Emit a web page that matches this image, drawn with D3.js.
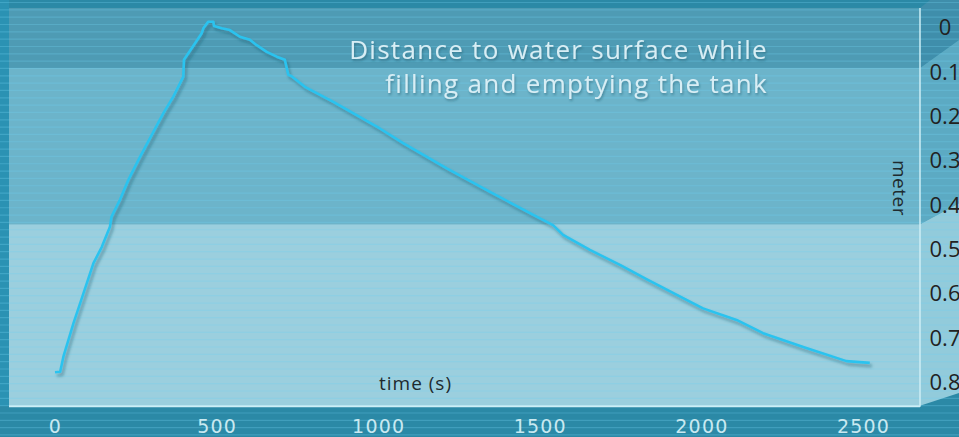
<!DOCTYPE html>
<html>
<head>
<meta charset="utf-8">
<script src="https://cdn.jsdelivr.net/npm/d3@7"></script>
<style>
  body { margin: 0; background: #2b89a6; }
  svg { display: block; }
</style>
</head>
<body>
<svg width="959" height="437"></svg>
<script>
// time in seconds, distance from sensor to the water surface in meter
var timeSec = [0, 16, 26, 57, 88, 119, 145, 170, 175, 201, 227, 263, 299, 335, 366, 397, 399,
  423, 454, 459, 474, 490, 492, 516, 541, 572, 603, 624, 655, 686, 711, 722, 732, 773, 861,
  1005, 1077, 1212, 1346, 1490, 1541, 1572, 1655, 1748, 1830, 1954, 2005, 2109, 2191, 2315,
  2449, 2521];
var distance = [0.779, 0.778, 0.744, 0.669, 0.601, 0.533, 0.496, 0.451, 0.428, 0.390, 0.345,
  0.293, 0.244, 0.195, 0.157, 0.112, 0.074, 0.048, 0.014, 0.003, -0.012, -0.012, -0.002, 0.003,
  0.007, 0.022, 0.029, 0.041, 0.056, 0.067, 0.074, 0.108, 0.111, 0.135, 0.169, 0.229, 0.262,
  0.319, 0.372, 0.428, 0.447, 0.469, 0.503, 0.537, 0.569, 0.616, 0.635, 0.661, 0.691, 0.722,
  0.754, 0.758];
var xTicks = [0, 500, 1000, 1500, 2000, 2500];
var yTicks = [0, 0.1, 0.2, 0.3, 0.4, 0.5, 0.6, 0.7, 0.8];
var yTickLabels = ["0", "0.1", "0.2", "0.3", "0.4", "0.5", "0.6", "0.7", "0.8"];
// depth zones of the tank (meter)
var zoneBreaks = [-0.043, 0.0925, 0.445, 0.855];
var zoneColors = ["#4e9bb4", "#6cb4ca", "#9bcfde"];
var wallColors = ["#3f8eab", "#5caac3", "#92cbdb"];
var titleLines = ["Distance to water surface while", "filling and emptying the tank"];

var svg = d3.select("svg"),
    width = +svg.attr("width"), height = +svg.attr("height");
var left = 9, right = 920;

var x = d3.scaleLinear().domain([0, 2500]).range([55, 863]);
var y = d3.scaleLinear().domain([0, 0.8]).range([27, 381.5]);

var defs = svg.append("defs");
var f = defs.append("filter").attr("id", "shadow").attr("x", "-10%").attr("y", "-10%")
    .attr("width", "130%").attr("height", "130%");
f.append("feDropShadow").attr("dx", 2).attr("dy", 3).attr("stdDeviation", 1.5)
    .attr("flood-color", "#1d5366").attr("flood-opacity", 0.45);
var ft = defs.append("filter").attr("id", "tshadow");
ft.append("feDropShadow").attr("dx", 1).attr("dy", 2).attr("stdDeviation", 1)
    .attr("flood-color", "#24596b").attr("flood-opacity", 0.5);

// background
svg.append("rect").attr("width", width).attr("height", height).attr("fill", "#2b89a6");
svg.append("rect").attr("x", 0).attr("y", 0).attr("width", left).attr("height", y(zoneBreaks[3]))
    .attr("fill", "#2b92b3");

// plot bands
svg.selectAll("rect.zone")
  .data(zoneColors)
  .enter().append("rect")
    .attr("class", "zone")
    .attr("x", left)
    .attr("width", right - left)
    .attr("y", function(d, i) { return y(zoneBreaks[i]); })
    .attr("height", function(d, i) { return y(zoneBreaks[i + 1]) - y(zoneBreaks[i]); })
    .attr("fill", function(d) { return d; });

// side wall, skewed towards the right
function wallY(yy) { return yy + (yy - 693) * (width - right) / 870; }
svg.selectAll("path.wall")
  .data(wallColors)
  .enter().append("path")
    .attr("class", "wall")
    .attr("d", function(d, i) {
      var a = y(zoneBreaks[i]), b = y(zoneBreaks[i + 1]);
      return "M" + right + "," + a + "L" + width + "," + wallY(a) +
        "L" + width + "," + wallY(b) + "L" + right + "," + b + "Z";
    })
    .attr("fill", function(d) { return d; });

// horizontal stripes over everything
svg.append("g")
  .selectAll("line")
  .data(d3.range(0, 60))
  .enter().append("line")
    .attr("x1", 0).attr("x2", width)
    .attr("y1", function(d) { return 2.5 + d * 7.33; })
    .attr("y2", function(d) { return 2.5 + d * 7.33; })
    .attr("stroke", "#6fd0ee").attr("stroke-opacity", 0.3).attr("stroke-width", 1.2);

// frame lines
svg.append("line").attr("x1", left).attr("x2", right)
    .attr("y1", y(zoneBreaks[3]) + 0.5).attr("y2", y(zoneBreaks[3]) + 0.5)
    .attr("stroke", "#cdeef6").attr("stroke-width", 2);
svg.append("line").attr("x1", right).attr("x2", right)
    .attr("y1", y(zoneBreaks[0])).attr("y2", y(zoneBreaks[3]) + 1)
    .attr("stroke", "#cdeef6").attr("stroke-width", 1.5);

// the measurement
var line = d3.line()
    .x(function(d) { return x(d[0]); })
    .y(function(d) { return y(d[1]); });
svg.append("path")
    .datum(d3.zip(timeSec, distance))
    .attr("d", line)
    .attr("fill", "none")
    .attr("stroke", "#2cc3ef")
    .attr("stroke-width", 2.6)
    .attr("stroke-linejoin", "round")
    .attr("filter", "url(#shadow)");

// title
svg.append("text")
    .attr("font-family", "Open Sans")
    .attr("font-size", 26)
    .attr("letter-spacing", 1.3)
    .attr("fill", "#d8eef5")
    .attr("text-anchor", "end")
    .attr("filter", "url(#tshadow)")
  .selectAll("tspan")
  .data(titleLines)
  .enter().append("tspan")
    .attr("x", 768)
    .attr("y", function(d, i) { return 59 + i * 34; })
    .text(function(d) { return d; });

// x axis
var xAxis = svg.append("g")
    .attr("transform", "translate(0," + 433 + ")")
    .call(d3.axisBottom(x).tickValues(xTicks).tickSize(0).tickPadding(0)
      .tickFormat(d3.format("d")));
xAxis.select(".domain").remove();
xAxis.selectAll("text")
    .attr("dy", 0)
    .attr("font-family", "DejaVu Sans")
    .attr("font-size", 19)
    .attr("letter-spacing", 1.2)
    .attr("fill", "#c9e9f1");

// y axis on the wall
var yAxis = svg.append("g")
    .attr("transform", "translate(945,0)")
    .call(d3.axisRight(y).tickValues(yTicks).tickSize(0).tickPadding(0)
      .tickFormat(function(d, i) { return yTickLabels[i]; }));
yAxis.select(".domain").remove();
yAxis.selectAll("text")
    .attr("text-anchor", "middle")
    .attr("dy", "0.36em")
    .attr("font-family", "Open Sans")
    .attr("font-size", 22)
    .attr("fill", "#222");

svg.append("text")
    .attr("x", 415.5).attr("y", 390)
    .attr("text-anchor", "middle")
    .attr("font-family", "Open Sans")
    .attr("font-size", 19)
    .attr("letter-spacing", 1)
    .attr("fill", "#1e2a2e")
    .text("time (s)");

svg.append("text")
    .attr("transform", "translate(893,188) rotate(90)")
    .attr("text-anchor", "middle")
    .attr("font-family", "Open Sans")
    .attr("font-size", 19)
    .attr("letter-spacing", 0.5)
    .attr("fill", "#1e2a2e")
    .text("meter");
</script>
</body>
</html>
